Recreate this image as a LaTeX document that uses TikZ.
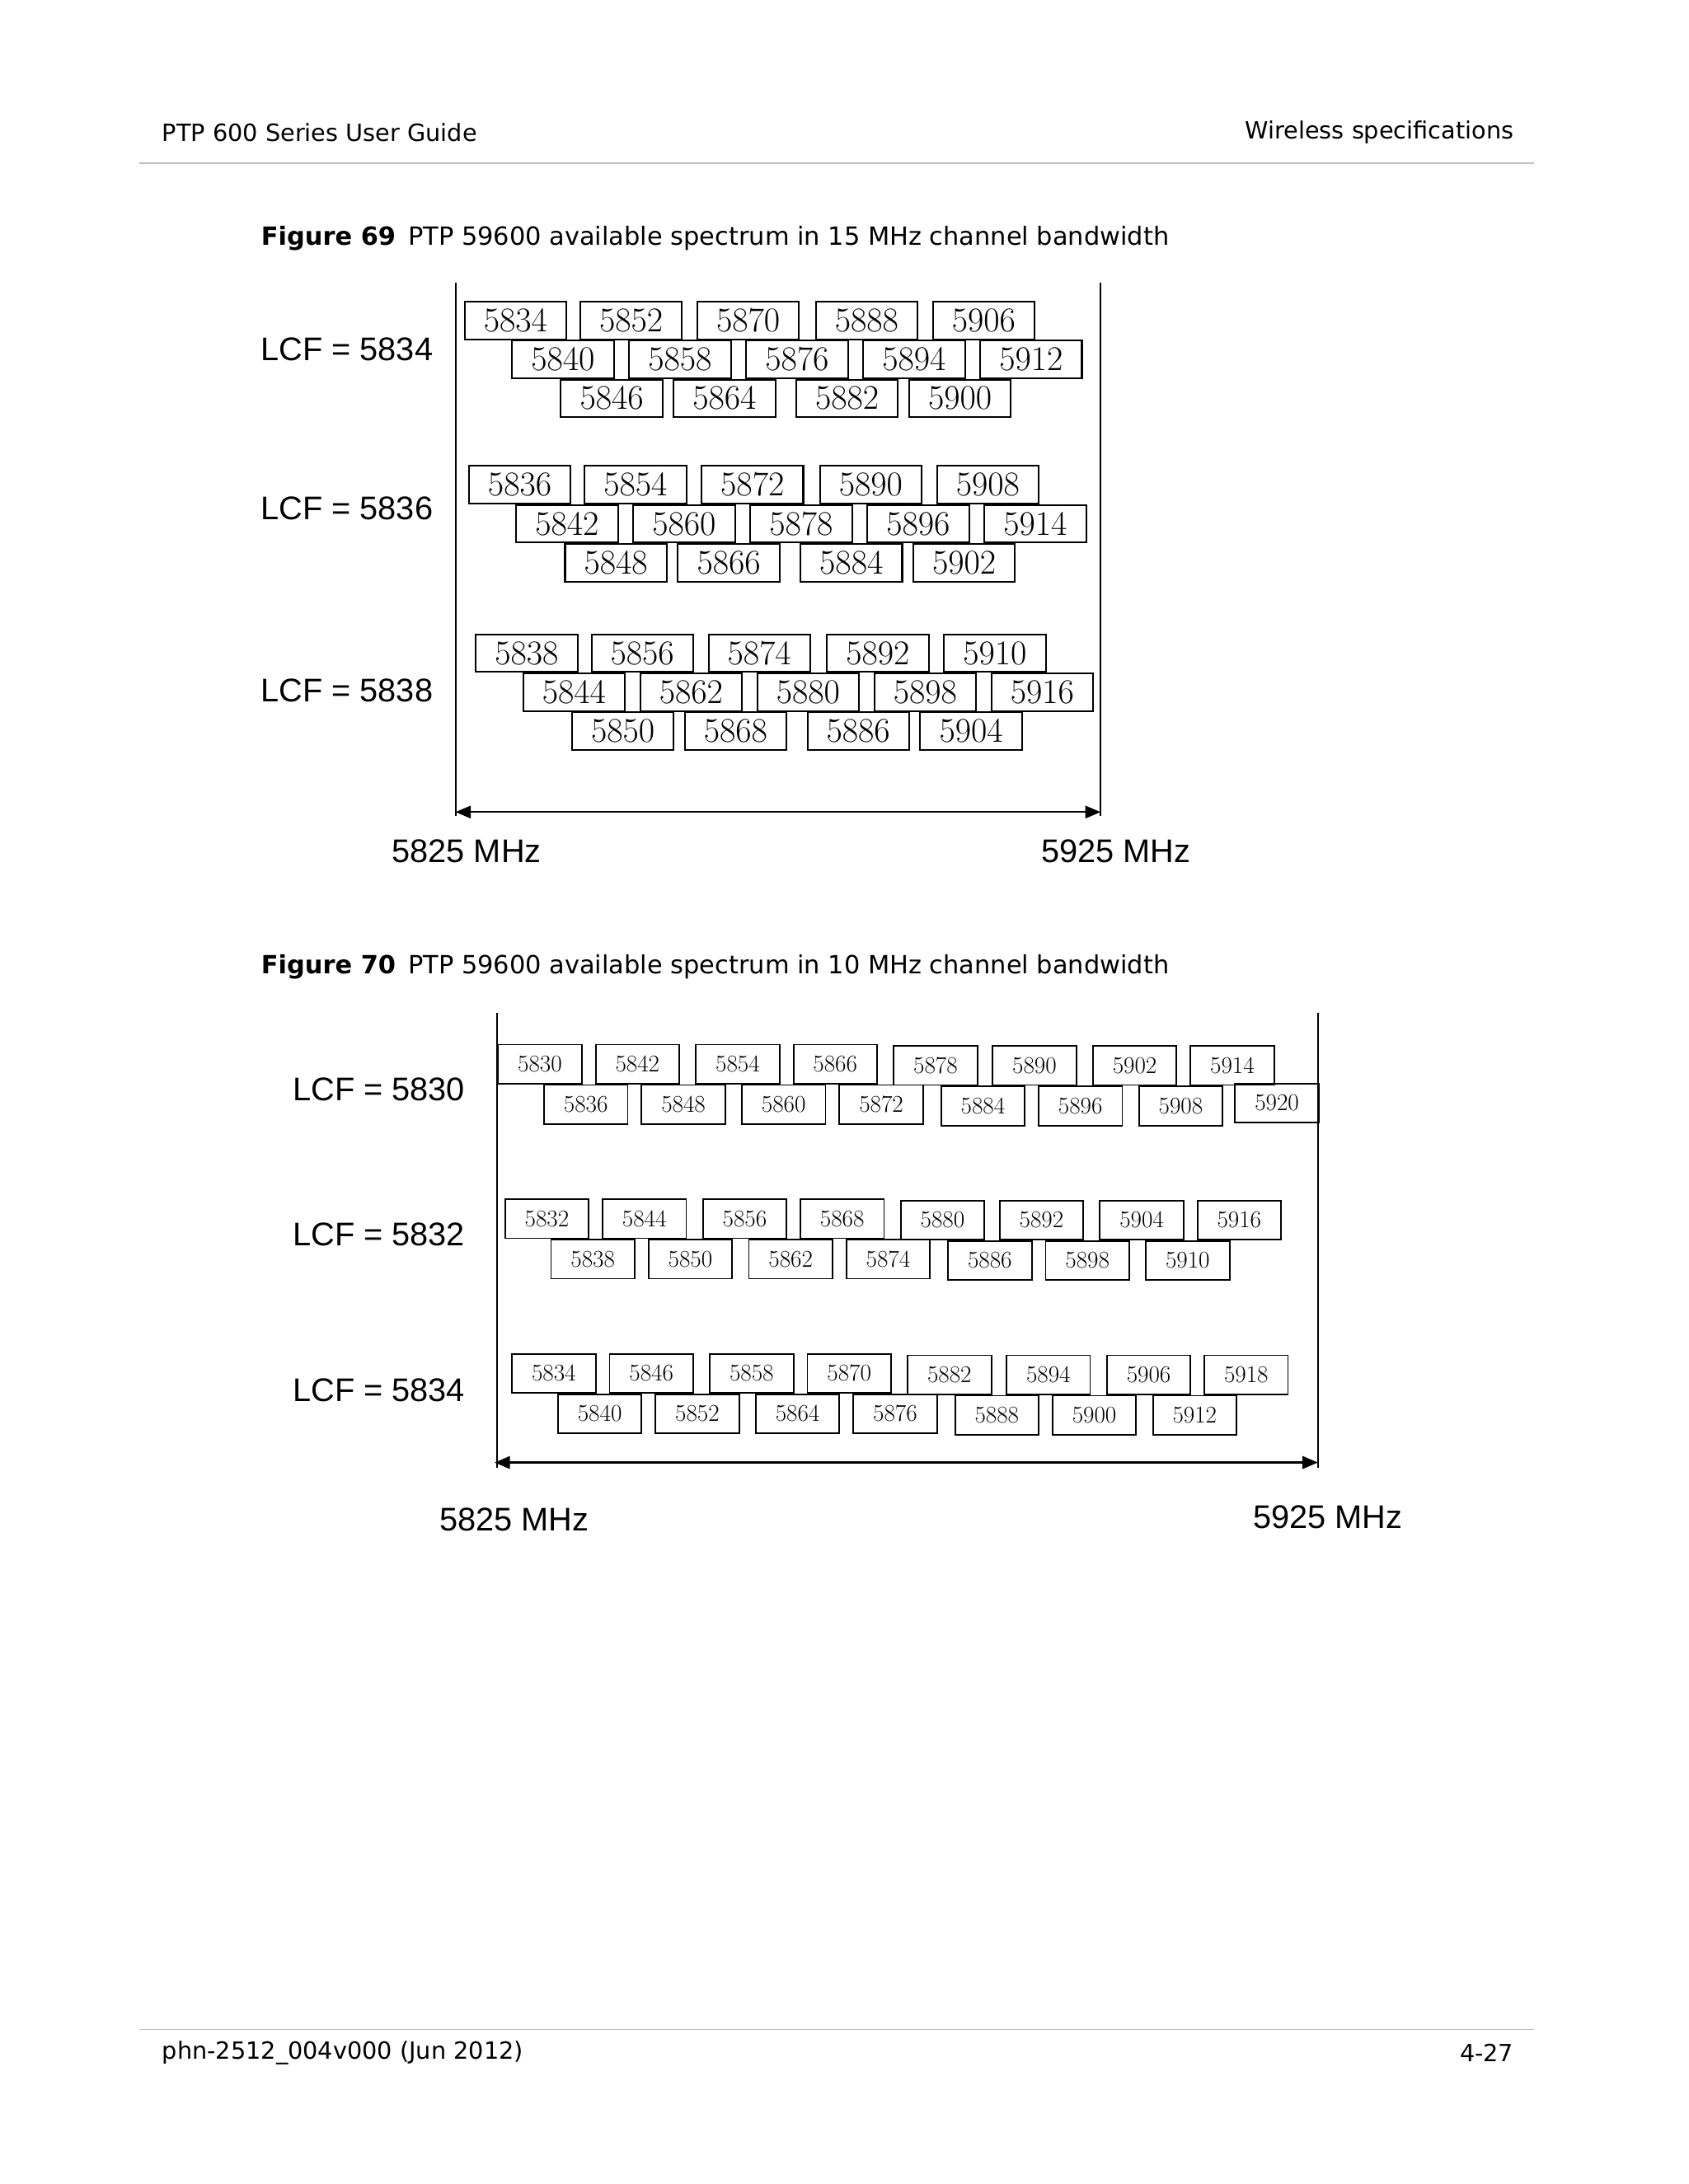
\documentclass[tikz,border=0pt]{standalone}
\usepackage{fontspec}
\setmainfont{Liberation Sans}
\newfontfamily\hdr{DejaVu Sans}
\usetikzlibrary{arrows.meta}
\tikzset{
 bA/.style={draw,line width=1.2pt,minimum width=73pt,minimum height=27pt,inner sep=0pt,anchor=west,font=\fontsize{23}{23}\selectfont},
 bB/.style={draw,line width=1.1pt,minimum width=60pt,minimum height=28pt,inner sep=0pt,anchor=west,font=\fontsize{19}{19}\selectfont},
 lab/.style={font=\fontsize{23.5}{24}\selectfont},
 hd/.style={font=\hdr\fontsize{17}{18}\selectfont},
 ax/.style={line width=1.3pt},
 arr/.style={line width=1.3pt,{Triangle[length=11pt,width=9pt]}-{Triangle[length=11pt,width=9pt]}}
}
\begin{document}
\begin{tikzpicture}[x=1pt,y=-1pt]
\useasboundingbox[fill=white] (0,0) rectangle (1212,1568);
% header/footer
\node[hd,anchor=west] (h1) at (113,95) {PTP 600 Series User Guide};
\node[hd,anchor=east] (h2) at (1090,95) {Wireless specifications};
\draw[gray!50,line width=1pt] (100,117) -- (1101,117);
\draw[gray!50,line width=1pt] (100,1457) -- (1101,1457);
\node[hd,anchor=west] (f1) at (113,1474) {phn-2512\_004v000 (Jun 2012)};
\node[hd,anchor=east] (f2) at (1090,1474) {4-27};
\node[hd,anchor=west,font=\hdr\fontsize{18}{19}\selectfont] (c1) at (184,171) {\textbf{Figure 69}\enspace PTP 59600 available spectrum in 15 MHz channel bandwidth};
\node[hd,anchor=west,font=\hdr\fontsize{18}{19}\selectfont] (c2) at (184,694) {\textbf{Figure 70}\enspace PTP 59600 available spectrum in 10 MHz channel bandwidth};
% Figure 69
\coordinate (a1) at (327,203); \coordinate (a2) at (327,586);
\coordinate (b1) at (790,203); \coordinate (b2) at (790,586);
\draw[ax] (a1)--(a2); \draw[ax] (b1)--(b2);
\coordinate (l1) at (327,583); \coordinate (r1) at (790,583);
\draw[arr] (l1)--(r1);
\node[lab] (m1) at (335,611) {5825 MHz};
\node[lab] (m2) at (801,611) {5925 MHz};
\foreach \dx/\dy/\lcf/\ra/\rb/\rc [count=\g] in {
 0/0/5834/{5834,5852,5870,5888,5906}/{5840,5858,5876,5894,5912}/{5846,5864,5882,5900},
 3/118/5836/{5836,5854,5872,5890,5908}/{5842,5860,5878,5896,5914}/{5848,5866,5884,5902},
 8/239/5838/{5838,5856,5874,5892,5910}/{5844,5862,5880,5898,5916}/{5850,5868,5886,5904}}{
 \node[lab] (lcfA\g) at (249,{251+(\dy==118?-4:(\dy==239?6:0))+\dy}) {LCF = \lcf};
 \foreach \x/\t [count=\i] in {333/0,416/1,500/2,585/3,669/4}{
   \pgfmathsetmacro\lbl{{\ra}[\i-1]}
   \node[bA] (A\g r1\i) at (\x+\dx,230+\dy) {\pgfmathprintnumber[int trunc,use comma=false,set thousands separator={}]{\lbl}};}
 \foreach \x [count=\i] in {367,451,535,619,703}{
   \pgfmathsetmacro\lbl{{\rb}[\i-1]}
   \node[bA] (A\g r2\i) at (\x+\dx,258+\dy) {\pgfmathprintnumber[int trunc,set thousands separator={}]{\lbl}};}
 \foreach \x [count=\i] in {402,483,571,652}{
   \pgfmathsetmacro\lbl{{\rc}[\i-1]}
   \node[bA] (A\g r3\i) at (\x+\dx,286+\dy) {\pgfmathprintnumber[int trunc,set thousands separator={}]{\lbl}};}
}
% Figure 70
\coordinate (c1a) at (357,727); \coordinate (c1b) at (357,1054);
\coordinate (d1a) at (946,727); \coordinate (d1b) at (946,1054);
\draw[ax] (c1a)--(c1b); \draw[ax] (d1a)--(d1b);
\coordinate (l2) at (355,1050); \coordinate (r2) at (946,1050);
\draw[arr] (l2)--(r2);
\node[lab] (n1) at (369,1091) {5825 MHz};
\node[lab] (n2) at (953,1089) {5925 MHz};
\foreach \dx/\dy/\lcf/\ra/\rb/\nb [count=\g] in {
 0/0/5830/{5830,5842,5854,5866,5878,5890,5902,5914}/{5836,5848,5860,5872,5884,5896,5908,5920}/8,
 5/111/5832/{5832,5844,5856,5868,5880,5892,5904,5916}/{5838,5850,5862,5874,5886,5898,5910,0}/7,
 10/222/5834/{5834,5846,5858,5870,5882,5894,5906,5918}/{5840,5852,5864,5876,5888,5900,5912,0}/7}{
 \node[lab] (lcfB\g) at (272,{782+\dy+(\dy==111?-7:(\dy==222?-6:0))}) {LCF = \lcf};
 \foreach \x/\yo [count=\i] in {357/0,427/0,499/0,569/0,641/1,712/1,784/1,854/1}{
   \pgfmathsetmacro\lbl{{\ra}[\i-1]}
   \node[bB] (B\g r1\i) at (\x+\dx,764+\yo+\dy) {\pgfmathprintnumber[int trunc,set thousands separator={}]{\lbl}};}
 \foreach \x/\yo [count=\i] in {390/0,460/0,532/0,602/0,675/1,745/1,817/1,886/-1}{
   \ifnum\i>\nb\else
   \pgfmathsetmacro\lbl{{\rb}[\i-1]}
   \node[bB] (B\g r2\i) at (\x+\dx,793+\yo+\dy) {\pgfmathprintnumber[int trunc,set thousands separator={}]{\lbl}};\fi}
}
\end{tikzpicture}
\end{document}
